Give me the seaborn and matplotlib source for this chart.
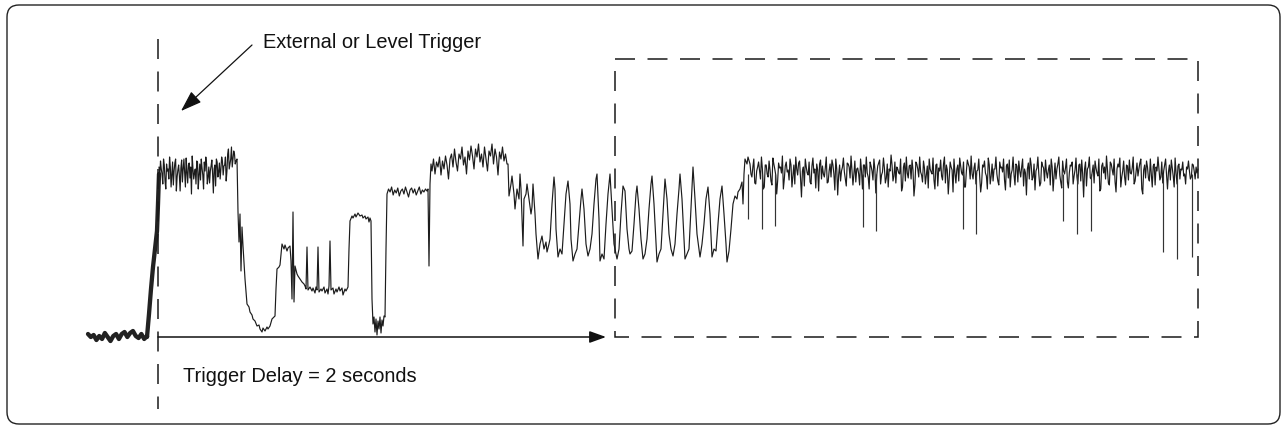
import matplotlib.pyplot as plt
from matplotlib.patches import FancyBboxPatch, Rectangle
import seaborn as sns
import pandas as pd
import numpy as np

# trace: x = time (px), y = depth below top (px)
base_y = [335, 338, 336, 341, 337, 340, 334, 338, 342, 337, 335, 340, 335,
          333, 338, 334, 332, 337, 339, 335, 340, 337]
rise_pts = [(147, 338), (149, 315), (151, 290), (153, 268), (155, 250),
            (157, 232), (158, 205), (159, 175)]

top_y = [168, 162, 175, 160, 182, 165, 170, 158, 188, 163, 172, 160, 178,
         166, 192, 161, 170, 175, 159, 184, 164, 168, 157, 180, 170, 162,
         190, 165, 160, 176, 163, 158, 185, 168, 172, 161, 194, 166, 160,
         178, 164, 170, 162, 167, 158, 172, 150, 165, 148, 160, 155, 162]
top_mid_y = [178, 170, 185, 166, 190, 172, 180, 168, 175, 186,
             164, 192, 171, 177, 169, 183, 160, 188, 173, 166,
             179, 195, 170, 174, 185, 163, 176, 181, 169, 190,
             172, 165, 178, 184, 167, 175, 170, 187, 163, 173,
             180, 158, 176, 166, 182, 155, 170, 160, 168, 152, 165]

drop_pts = [(237, 160), (238, 213), (239, 243), (240, 215), (241, 272), (242, 228),
            (243, 247), (245, 280), (247, 305), (249, 308), (250, 313), (252, 316),
            (253, 320), (255, 322), (257, 327), (259, 326), (260, 330), (262, 333),
            (263, 329), (265, 332), (267, 328), (268, 330), (270, 327), (272, 320),
            (274, 318), (275, 317), (276, 290), (277, 270), (279, 268), (280, 266),
            (282, 245), (284, 250), (285, 246), (287, 252), (288, 249), (290, 247),
            (291, 262), (292, 300), (293, 213), (294, 303), (295, 267), (297, 275),
            (298, 277), (300, 280), (302, 283), (304, 285), (305, 287), (306, 290),
            (307, 248), (308, 291), (310, 288), (312, 292), (313, 289), (315, 294),
            (316, 288), (317, 291), (318, 248), (319, 293), (321, 290), (322, 292),
            (324, 288), (325, 294), (327, 290), (328, 295), (329, 287), (330, 242),
            (331, 291), (333, 289), (334, 295), (336, 290), (337, 293), (339, 288),
            (340, 292), (342, 289), (343, 296), (345, 290), (346, 292), (348, 288),
            (349, 250), (350, 222), (352, 217), (353, 219), (355, 215), (356, 218),
            (358, 214), (360, 217), (362, 216), (363, 219), (365, 217), (366, 220),
            (368, 218), (369, 223), (370, 219), (371, 222), (372, 300), (373, 325),
            (374, 318), (375, 333), (376, 320), (377, 336), (378, 322), (379, 330),
            (380, 318), (381, 334), (382, 321), (383, 327), (384, 317), (385, 318),
            (386, 250)]

shelf_y = [195, 190, 193, 188, 196, 191, 194, 189, 197, 192, 190, 195, 188, 193,
           198, 191, 189, 194, 190, 196, 192, 188, 195, 191, 193, 190, 192]

spike_pts = [(428, 190), (429, 267), (430, 185), (431, 165)]

hump_y = [172, 160, 175, 163, 168, 158, 176, 162, 170, 157, 166, 180, 160, 155,
          168, 150, 163, 172, 155, 160, 148, 166, 158, 175, 152, 161, 147, 157,
          170, 150, 158, 145, 163, 155, 168, 148, 160, 172, 152, 157, 145, 165,
          150, 158, 176, 153, 160, 148, 162, 155, 165]

swing_pts = [(508, 165), (509, 197), (511, 185), (512, 177), (514, 195), (515, 210),
             (517, 190), (519, 200), (520, 175), (521, 190), (523, 247), (524, 200),
             (526, 195), (527, 185), (529, 200), (531, 215), (532, 208), (533, 185),
             (535, 215), (536, 235), (538, 260), (540, 245), (542, 237), (544, 250),
             (546, 243), (547, 253), (549, 245), (550, 240), (552, 205), (554, 178),
             (555, 190), (556, 230), (558, 258), (560, 250), (562, 255), (564, 225),
             (566, 195), (568, 182), (570, 205), (571, 240), (573, 262), (575, 255),
             (577, 250), (579, 225), (581, 200), (582, 190), (584, 210), (586, 245),
             (588, 257), (590, 250), (592, 235), (594, 205), (596, 180), (597, 175),
             (599, 220), (600, 262), (602, 255), (604, 260), (606, 225), (608, 195),
             (610, 175), (612, 210), (614, 245), (617, 260), (619, 250), (621, 215),
             (623, 187), (625, 192), (627, 230), (629, 250), (630, 255), (632, 252),
             (634, 225), (636, 195), (637, 187), (639, 210), (641, 240), (643, 260),
             (645, 255), (647, 240), (649, 210), (651, 185), (652, 177), (654, 205),
             (656, 245), (657, 263), (659, 255), (661, 250), (663, 215), (665, 180),
             (667, 200), (669, 235), (671, 250), (673, 257), (675, 245), (677, 215),
             (679, 190), (680, 175), (682, 200), (684, 240), (685, 260), (687, 255),
             (689, 250), (691, 210), (693, 168), (695, 200), (697, 235), (699, 250),
             (700, 258), (702, 245), (704, 225), (706, 200), (708, 188), (710, 215),
             (712, 258), (714, 250), (716, 252), (718, 225), (720, 200), (722, 187),
             (724, 215), (726, 245), (727, 263), (729, 252), (731, 230), (733, 205),
             (735, 197), (737, 200), (738, 193), (740, 190), (742, 183), (743, 205),
             (744, 175), (745, 160), (747, 165), (748, 158)]

tail_y = [165, 178, 160, 185, 168, 172, 158, 190, 166, 175,
          162, 182, 159, 170, 195, 164, 168, 157, 180, 163,
          171, 160, 188, 166, 158, 176, 162, 198, 168, 160,
          174, 163, 185, 159, 170, 165, 192, 161, 167, 178,
          158, 183, 165, 161, 175, 160, 196, 166, 172, 159,
          180, 164, 168, 157, 186, 162, 170, 175, 160, 190,
          166, 158, 178, 163, 172, 160, 194, 167, 161, 176,
          159, 184, 165, 170, 156, 182, 163, 168, 174, 160,
          188, 164, 158, 179, 166, 161, 197, 163, 170, 158,
          176, 162, 185, 167, 160, 173, 159, 190, 165, 169,
          161, 181, 158, 166, 195, 163, 171, 160, 184, 166,
          159, 174, 163, 188, 161, 168, 157, 180, 164, 172,
          160, 193, 166, 162, 177, 159, 185, 165, 170, 158,
          182, 163, 168, 160, 191, 165, 161, 175, 158, 186,
          167, 162, 178, 160, 170, 196, 164, 159, 181, 165,
          172, 158, 187, 163, 169, 161, 179, 166, 160, 192,
          164, 170, 158, 183, 162, 175, 160, 189, 166, 163,
          177, 159, 185, 165, 161, 198, 163, 170, 158, 180,
          166, 162, 174, 160, 190, 164, 168, 157, 184, 163,
          171, 160, 193, 165, 159, 178, 162, 186, 167, 161,
          175, 158, 182, 164, 170, 160, 195, 166, 162, 179,
          160, 188, 165, 168, 158, 181, 163, 172, 160, 190,
          166, 161, 177, 159, 185, 165, 170, 163, 175, 168,
          162, 180, 165, 172, 168, 170]
tail_mid_y = [175, 168, 184, 172, 163, 180, 170, 188, 166, 178,
              171, 186, 165, 176, 182, 169, 174, 190, 167, 173,
              181, 166, 177, 185, 170, 164, 179, 172, 187, 168,
              176, 183, 167, 174, 189, 171, 165, 180, 175, 169,
              184, 172, 178, 166, 191, 170, 176, 182, 168, 173,
              187, 165, 179, 171, 175, 183, 169, 186, 172, 166,
              178, 174, 190, 167, 181, 170, 176, 164, 185, 173,
              169, 179, 188, 172, 166, 177, 184, 170, 175, 192,
              168, 182, 174, 167, 180, 171, 186, 165, 178, 173,
              183, 169, 176, 189, 170, 175, 181, 166, 187, 172,
              177, 165, 184, 171, 179, 168, 193, 174, 170, 182,
              167, 176, 188, 172, 165, 180, 175, 169, 185, 171,
              178, 184, 168, 174, 190, 166, 177, 182, 170, 175,
              186, 169, 173, 181, 167, 179, 188, 171, 176, 165,
              183, 172, 168, 187, 174, 170, 180, 166, 178, 191,
              169, 175, 184, 167, 182, 173, 171, 186, 168, 177,
              180, 165, 176, 189, 172, 169, 183, 174, 167, 185,
              171, 178, 166, 182, 175, 170, 187, 168, 179, 173,
              184, 169, 177, 192, 167, 174, 180, 171, 186, 165,
              176, 183, 170, 168, 188, 172, 178, 166, 181, 174,
              169, 185, 173, 177, 164, 190, 171, 179, 168, 182,
              175, 167, 186, 172, 170, 178, 184, 166, 176, 173,
              181, 169, 188, 174, 167, 180, 171, 177, 185, 170,
              172, 178, 166, 180, 174]

# deep dropouts in the tail
dropout_x = [748, 762, 775, 863, 876, 963, 976, 1063, 1077, 1091, 1163, 1177, 1192]
dropout_y = [220, 230, 227, 228, 232, 230, 235, 222, 235, 232, 253, 260, 258]

DELAY_LABEL = "Trigger Delay = 2 seconds"
TRIGGER_LABEL = "External or Level Trigger"


def interleave(a, b):
    out = []
    for i, v in enumerate(a):
        out.append(v)
        if i < len(b):
            out.append(b[i])
    return out


def spread(x0, x1, ys):
    return list(zip(np.linspace(x0, x1, len(ys)), ys))


sns.set_theme(style="white")
plt.rcParams['font.family'] = ['Liberation Sans', 'DejaVu Sans']
plt.rcParams['lines.scale_dashes'] = False

thick = pd.DataFrame(spread(88, 147, base_y) + rise_pts, columns=['x', 'y'])
thin = pd.DataFrame(spread(159, 236, interleave(top_y, top_mid_y)) + drop_pts
                    + spread(387, 427, shelf_y) + spike_pts + spread(432, 507, hump_y)
                    + swing_pts + spread(750, 1198, interleave(tail_y, tail_mid_y)),
                    columns=['x', 'y'])

fig = plt.figure(figsize=(12.86, 4.31), dpi=100)
ax = fig.add_axes([0, 0, 1, 1])

# outer rounded frame
ax.add_patch(FancyBboxPatch((7, 6), 1273, 419, boxstyle="round,pad=0,rounding_size=12",
                            fill=False, ec='#222222', lw=1.0))

sns.lineplot(data=thick, x='x', y='y', sort=False, estimator=None, ax=ax,
             color='#222222', lw=3.1)
sns.lineplot(data=thin, x='x', y='y', sort=False, estimator=None, ax=ax,
             color='#1c1c1c', lw=0.85)
ax.vlines(dropout_x, 175, dropout_y, color='#333333', lw=0.85)

dash = (0, (14.4, 9.0))
ax.plot([158, 158], [40, 410], color='#1a1a1a', lw=1.1, ls=dash)
ax.add_patch(Rectangle((615, 60), 583, 278, fill=False, ec='#1a1a1a', lw=1.1, ls=dash))

# trigger delay arrow
ax.annotate("", xy=(606, 338), xytext=(158, 338),
            arrowprops=dict(arrowstyle='-|>,head_length=1.0,head_width=0.36', mutation_scale=10,
                            color='#111111', lw=1.1, shrinkA=0, shrinkB=0))
ax.text(183, 377, DELAY_LABEL, fontsize=14.4, va='center', ha='left', color='#111111')

# external trigger callout
ax.annotate("", xy=(181, 112), xytext=(252, 46),
            arrowprops=dict(arrowstyle='-|>,head_length=1.3,head_width=0.45', mutation_scale=10,
                            color='#111111', lw=0.9, shrinkA=0, shrinkB=0))
ax.text(263, 42, TRIGGER_LABEL, fontsize=14.4, va='center', ha='left', color='#111111')

ax.set_xlim(0, 1286)
ax.set_ylim(431, 0)
ax.axis('off')

plt.savefig('out.png', dpi=100, facecolor='white')
